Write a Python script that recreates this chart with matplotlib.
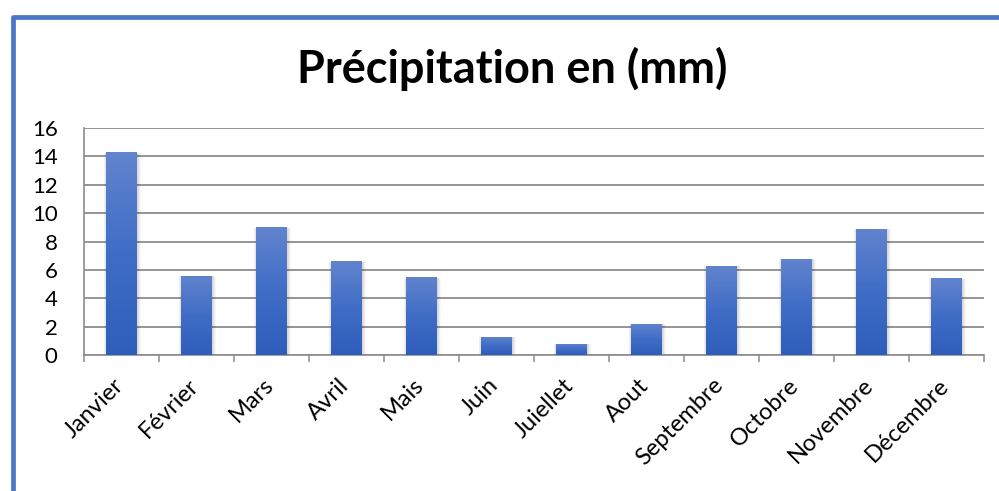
import matplotlib.pyplot as plt
import numpy as np
from matplotlib.colors import LinearSegmentedColormap
from matplotlib.patches import Rectangle
from matplotlib.transforms import ScaledTranslation

mois = [
    "Janvier", "Février", "Mars", "Avril", "Mais", "Juin",
    "Juiellet", "Aout", "Septembre", "Octobre", "Novembre", "Décembre",
]
precipitation_mm = [14.3, 5.6, 9.0, 6.6, 5.5, 1.3, 0.8, 2.2, 6.3, 6.8, 8.9, 5.4]
y_ticks = [0, 2, 4, 6, 8, 10, 12, 14, 16]

plt.rcParams["font.family"] = ["Lato", "DejaVu Sans"]

W, H = 999, 491
fig = plt.figure(figsize=(W / 100, H / 100), dpi=100)
ax = fig.add_axes([84 / W, 1 - 355 / H, 900 / W, 227 / H])

# chart frame, only its top and left edges fall inside the canvas
frame = Rectangle(
    (12.5 / W, -0.2), 1.5, 1.2 - 16.5 / H,
    transform=fig.transFigure, fill=False,
    edgecolor="#4a76c6", linewidth=3.4, joinstyle="round", zorder=0,
)
fig.patches.append(frame)

fig.text(512 / W, 1 - 69 / H, "Précipitation en (mm)",
         ha="center", va="center", fontsize=32.5, fontweight="bold")

grad = LinearSegmentedColormap.from_list(
    "bleu", ["#2e5ebb", "#3f6dc6", "#6284ce"])
gradient = np.linspace(0, 1, 256).reshape(-1, 1)

x = np.arange(len(mois))
width = 0.41
bars = ax.bar(x, precipitation_mm, width=width, color="#4472c4", zorder=3)

for bar in bars:
    bx, by = bar.get_x(), bar.get_y()
    bw, bh = bar.get_width(), bar.get_height()
    # soft drop shadow around the bar
    for k in range(5):
        grow = 0.008 * (k + 1)
        sh = Rectangle((bx - grow + 0.01, by - 0.05 - grow * 4),
                       bw + 2 * grow, bh + grow * 4,
                       facecolor="black", edgecolor="none", alpha=0.03, zorder=2)
        ax.add_patch(sh)
    im = ax.imshow(gradient, cmap=grad, origin="lower", aspect="auto",
                   extent=(bx, bx + bw, by, by + bh), zorder=3.5)
    im.set_clip_path(bar)

ax.set_xlim(-0.5, len(mois) - 0.5)
ax.set_ylim(0, 16)
ax.set_yticks(y_ticks)
ax.set_yticklabels([str(t) for t in y_ticks])
ax.set_xticks(x)
ax.set_xticklabels(mois, rotation=45, ha="right", va="top")
ax.set_xticks(np.arange(-0.5, len(mois)), minor=True)

ax.tick_params(axis="y", length=0, pad=19, labelsize=16)
ax.tick_params(axis="x", which="major", length=0, pad=14, labelsize=17)
ax.tick_params(axis="x", which="minor", length=5, width=1.1, color="#8c8c8c")

# nudge the slanted month names a little to the right
shift = ScaledTranslation(6 / 100, 0, fig.dpi_scale_trans)
for label in ax.get_xticklabels():
    label.set_transform(label.get_transform() + shift)

ax.grid(axis="y", color="#8c8c8c", linewidth=1.3, zorder=1)
ax.set_axisbelow(True)
for side in ["top", "right"]:
    ax.spines[side].set_visible(False)
for side in ["left", "bottom"]:
    ax.spines[side].set_color("#8c8c8c")
    ax.spines[side].set_linewidth(1.2)

fig.savefig("out.png", dpi=100)
